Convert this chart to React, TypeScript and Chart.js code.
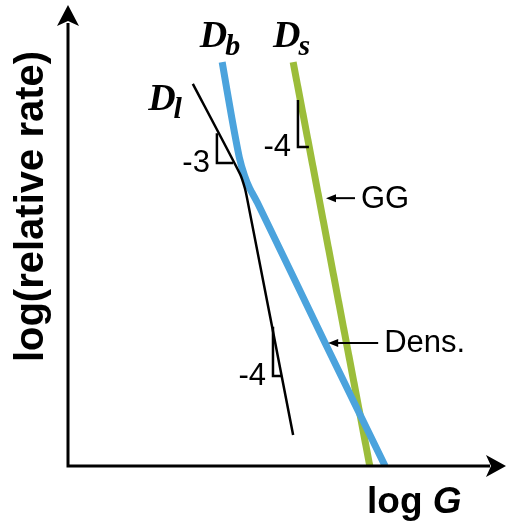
import React, { useEffect, useRef } from "react";
import { Chart, registerables } from "chart.js";

Chart.register(...registerables);

// ---- data (arbitrary log units: x = log G, y = log relative rate) ----
const greenGG = [
  { x: 5.14, y: 8.76 },
  { x: 6.89, y: 0.0 },
];
const blueDens = [
  { x: 3.52, y: 8.76 },
  { x: 3.74, y: 7.55 },
  { x: 3.91, y: 6.7 },
  { x: 4.03, y: 6.3 },
  { x: 4.15, y: 6.02 },
  { x: 4.32, y: 5.72 },
  { x: 5.87, y: 2.67 },
  { x: 7.24, y: 0.0 },
];
const blackDl = [
  { x: 2.85, y: 8.29 },
  { x: 3.93, y: 6.33 },
  { x: 4.04, y: 6.02 },
  { x: 4.09, y: 5.8 },
  { x: 5.14, y: 0.67 },
];
const triangle1 = [
  { x: 3.4, y: 7.22 },
  { x: 3.4, y: 6.57 },
  { x: 3.77, y: 6.57 },
];
const triangle2 = [
  { x: 5.25, y: 7.94 },
  { x: 5.25, y: 6.92 },
  { x: 5.5, y: 6.92 },
];
const triangle3 = [
  { x: 4.68, y: 3.02 },
  { x: 4.68, y: 1.95 },
  { x: 4.89, y: 1.95 },
];
const slopeLabels = ["-3", "-4", "-4"];
const curveLabels = [
  { main: "D", sub: "b", x: 3.01, y: 9.09 },
  { main: "D", sub: "s", x: 4.68, y: 9.09 },
  { main: "D", sub: "l", x: 1.83, y: 7.72 },
];
const arrowNotes = [
  { text: "GG", x: 5.89, y: 5.81, len: 29 },
  { text: "Dens.", x: 5.94, y: 2.67, len: 50 },
];
const xAxisLabel = ["log ", "G"];
const yAxisLabel = "log(relative rate)";

const BLUE = "#4BA3DD";
const GREEN = "#9CBD3A";
const SANS = '"Liberation Sans", Arial, sans-serif';
const SERIF = '"Liberation Serif", "Times New Roman", serif';

const overlay = {
  id: "overlay",
  afterDatasetsDraw(chart: any) {
    const { ctx, chartArea: a, scales } = chart;
    const px = (v: number) => scales.x.getPixelForValue(v);
    const py = (v: number) => scales.y.getPixelForValue(v);
    ctx.save();
    ctx.fillStyle = "#000";
    ctx.strokeStyle = "#000";

    // axes
    ctx.lineWidth = 3;
    ctx.lineJoin = "miter";
    ctx.beginPath();
    ctx.moveTo(a.left, a.top + 18);
    ctx.lineTo(a.left, a.bottom);
    ctx.lineTo(a.right - 16, a.bottom);
    ctx.stroke();
    // y arrow head
    ctx.beginPath();
    ctx.moveTo(a.left, a.top);
    ctx.lineTo(a.left - 11, a.top + 21);
    ctx.lineTo(a.left, a.top + 16);
    ctx.lineTo(a.left + 11, a.top + 21);
    ctx.closePath();
    ctx.fill();
    // x arrow head
    ctx.beginPath();
    ctx.moveTo(a.right, a.bottom);
    ctx.lineTo(a.right - 20, a.bottom - 11);
    ctx.lineTo(a.right - 15, a.bottom);
    ctx.lineTo(a.right - 20, a.bottom + 11);
    ctx.closePath();
    ctx.fill();

    // slope labels next to triangle corners
    const tris = [triangle1, triangle2, triangle3];
    ctx.font = "31px " + SANS;
    ctx.textAlign = "right";
    ctx.textBaseline = "alphabetic";
    tris.forEach((t, i) => {
      const cx = px(t[1].x);
      const cy = py(t[1].y);
      ctx.fillText(slopeLabels[i], cx - 7, cy + 9);
    });

    // curve labels D_b, D_s, D_l
    ctx.textAlign = "left";
    curveLabels.forEach((c) => {
      const x0 = px(c.x);
      const y0 = py(c.y);
      ctx.font = "bold italic 38px " + SERIF;
      ctx.fillText(c.main, x0, y0);
      const w = ctx.measureText(c.main).width;
      ctx.font = "bold italic 30px " + SERIF;
      ctx.fillText(c.sub, x0 + w - 2, y0 + 8);
    });

    // arrow notes GG, Dens.
    ctx.lineWidth = 2;
    ctx.font = "31px " + SANS;
    ctx.textBaseline = "middle";
    arrowNotes.forEach((n) => {
      const tx = px(n.x);
      const ty = py(n.y);
      ctx.beginPath();
      ctx.moveTo(tx + 4, ty);
      ctx.lineTo(tx + n.len, ty);
      ctx.stroke();
      ctx.beginPath();
      ctx.moveTo(tx, ty);
      ctx.lineTo(tx + 10, ty - 4);
      ctx.lineTo(tx + 10, ty + 4);
      ctx.closePath();
      ctx.fill();
      ctx.fillText(n.text, tx + n.len + 6, ty + 1);
    });

    // x axis label
    ctx.textBaseline = "alphabetic";
    ctx.font = "bold 37px " + SANS;
    const lx = 367;
    const ly = a.bottom + 47;
    ctx.fillText(xAxisLabel[0], lx, ly);
    const lw = ctx.measureText(xAxisLabel[0]).width;
    ctx.font = "bold italic 37px " + SANS;
    ctx.fillText(xAxisLabel[1], lx + lw, ly);

    // y axis label
    ctx.save();
    ctx.translate(a.left - 25, (a.top + a.bottom) / 2 - 29);
    ctx.rotate(-Math.PI / 2);
    ctx.font = "bold 40px " + SANS;
    ctx.textAlign = "center";
    ctx.fillText(yAxisLabel, 0, 0);
    ctx.restore();

    ctx.restore();
  },
};

export default function App() {
  const ref = useRef<HTMLCanvasElement | null>(null);
  useEffect(() => {
    if (!ref.current) return;
    const triStyle = {
      borderColor: "#000",
      borderWidth: 2.5,
      pointRadius: 0,
      tension: 0,
      fill: false,
      order: 0,
    };
    const chart = new Chart(ref.current, {
      type: "line",
      data: {
        datasets: [
          {
            label: "GG",
            data: greenGG,
            borderColor: GREEN,
            borderWidth: 7,
            pointRadius: 0,
            order: 3,
          },
          {
            label: "Dens.",
            data: blueDens,
            borderColor: BLUE,
            borderWidth: 7,
            pointRadius: 0,
            tension: 0.25,
            order: 2,
          },
          {
            label: "Dl",
            data: blackDl,
            borderColor: "#000",
            borderWidth: 2.5,
            pointRadius: 0,
            tension: 0.2,
            order: 1,
          },
          { label: "t1", data: triangle1, ...triStyle },
          { label: "t2", data: triangle2, ...triStyle },
          { label: "t3", data: triangle3, ...triStyle },
        ],
      },
      options: {
        responsive: false,
        animation: false,
        devicePixelRatio: 1,
        layout: { padding: { left: 68, top: 5, right: 1, bottom: 65 } },
        plugins: {
          legend: { display: false },
          tooltip: { enabled: false },
          title: { display: false },
        },
        scales: {
          x: { type: "linear", min: 0, max: 10, display: false },
          y: { type: "linear", min: 0, max: 10, display: false },
        },
      },
      plugins: [overlay],
    } as any);
    return () => chart.destroy();
  }, []);
  return (
    <div style={{ position: "fixed", left: 0, top: 0, width: 507, height: 531, background: "#fff" }}>
      <canvas ref={ref} width={507} height={531} style={{ display: "block" }} />
    </div>
  );
}
